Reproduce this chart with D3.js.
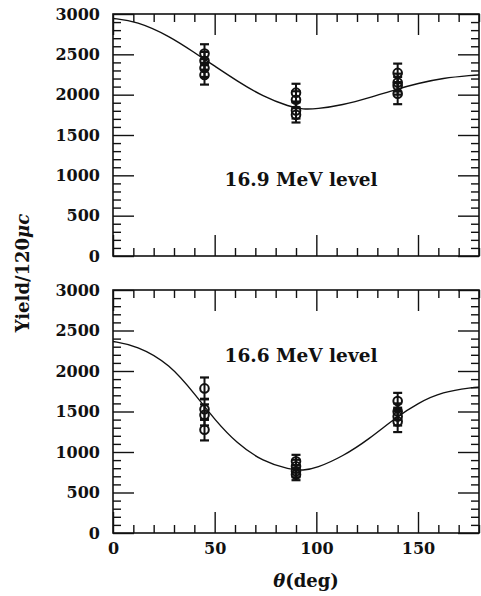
<!DOCTYPE html>
<html>
<head>
<meta charset="utf-8">
<script src="https://cdn.jsdelivr.net/npm/d3@7"></script>
<style>
  body { margin: 0; background: #fff; }
  svg text { font-family: "DejaVu Serif", serif; font-weight: bold; fill: #111; }
</style>
</head>
<body>
<div id="chart"></div>
<script>
// angles (deg) and yields
const thetaTicks = [0, 50, 100, 150];
const yieldTicks = [0, 500, 1000, 1500, 2000, 2500, 3000];

// 16.9 MeV level: measured points
const topTheta = [45, 45, 45, 45, 90, 90, 90, 90, 140, 140, 140, 140];
const topYield = [2510, 2420, 2330, 2245, 2025, 1937, 1804, 1750, 2270, 2150, 2110, 2012];
const topErr   = [115, 110, 110, 120, 110, 105, 100, 95, 115, 110, 110, 130];
// 16.9 MeV level: fitted curve
const topCurveTheta = [0, 11.5, 27.9, 41, 50, 60.7, 73.8, 86.9, 93.4, 100, 113, 126, 139, 150, 162, 177, 180];
const topCurveYield = [2945, 2912, 2725, 2505, 2355, 2175, 1975, 1850, 1818, 1822, 1872, 1960, 2065, 2140, 2205, 2242, 2245];

// 16.6 MeV level: measured points
const botTheta = [45, 45, 45, 45, 90, 90, 90, 90, 140, 140, 140, 140];
const botYield = [1785, 1527, 1458, 1274, 885, 824, 763, 722, 1630, 1500, 1437, 1376];
const botErr   = [135, 130, 130, 131, 80, 80, 75, 70, 100, 100, 110, 130];
// 16.6 MeV level: fitted curve
const botCurveTheta = [0, 11.5, 27.9, 41, 50, 60.7, 73.8, 86.9, 93.4, 100, 113, 126, 139, 150, 162, 177, 180];
const botCurveYield = [2365, 2316, 2091, 1690, 1400, 1110, 880, 783, 771, 800, 945, 1160, 1425, 1605, 1744, 1797, 1800];

const width = 481, height = 596;
const left = 113, right = 479;
const ink = '#111';

const svg = d3.select('#chart').append('svg')
    .attr('width', width)
    .attr('height', height);

const x = d3.scaleLinear().domain([0, 180]).range([left, right]);

function drawPanel(top, bottom, pts, curve, label, labelY, showXLabels) {
    const y = d3.scaleLinear().domain([0, 3000]).range([bottom, top]);
    const g = svg.append('g');

    const minorX = d3.range(0, 181, 10).filter(v => v % 50 !== 0);
    const minorY = d3.range(0, 3001, 100).filter(v => v % 500 !== 0);

    const style = sel => sel.call(s => s.select('.domain').remove())
        .call(s => s.selectAll('line').attr('stroke', ink).attr('stroke-width', 1.4));
    const fontIt = s => s.selectAll('text').attr('font-size', 16).attr('font-family', '"DejaVu Serif", serif')
        .attr('font-weight', 'bold').attr('fill', ink);

    // major + minor ticks on all four sides, pointing inward
    g.append('g').attr('transform', `translate(${left},0)`)
        .call(d3.axisLeft(y).tickValues(yieldTicks).tickSize(-21).tickPadding(13).tickFormat(d3.format('d')))
        .call(style).call(fontIt);
    g.append('g').attr('transform', `translate(${left},0)`)
        .call(d3.axisLeft(y).tickValues(minorY).tickSize(-8).tickFormat('')).call(style);
    g.append('g').attr('transform', `translate(${right},0)`)
        .call(d3.axisRight(y).tickValues(yieldTicks).tickSize(-21).tickFormat('')).call(style);
    g.append('g').attr('transform', `translate(${right},0)`)
        .call(d3.axisRight(y).tickValues(minorY).tickSize(-8).tickFormat('')).call(style);
    g.append('g').attr('transform', `translate(0,${top})`)
        .call(d3.axisTop(x).tickValues(thetaTicks).tickSize(-21).tickFormat('')).call(style);
    g.append('g').attr('transform', `translate(0,${top})`)
        .call(d3.axisTop(x).tickValues(minorX).tickSize(-8).tickFormat('')).call(style);
    g.append('g').attr('transform', `translate(0,${bottom})`)
        .call(d3.axisBottom(x).tickValues(thetaTicks).tickSize(-21).tickPadding(10).tickFormat(showXLabels ? d3.format('d') : ''))
        .call(style).call(fontIt);
    g.append('g').attr('transform', `translate(0,${bottom})`)
        .call(d3.axisBottom(x).tickValues(minorX).tickSize(-8).tickFormat('')).call(style);

    // frame
    g.append('rect')
        .attr('x', left).attr('y', top)
        .attr('width', right - left).attr('height', bottom - top)
        .attr('fill', 'none').attr('stroke', ink).attr('stroke-width', 1.6);

    // fitted curve
    const line = d3.line().x(d => x(d[0])).y(d => y(d[1])).curve(d3.curveBasis);
    g.append('path')
        .datum(curve)
        .attr('d', line)
        .attr('fill', 'none').attr('stroke', ink).attr('stroke-width', 1.4);

    // error bars
    const eb = g.selectAll('.eb').data(pts).enter().append('g');
    eb.append('line')
        .attr('x1', d => x(d.t)).attr('x2', d => x(d.t))
        .attr('y1', d => y(d.v - d.e)).attr('y2', d => y(d.v + d.e))
        .attr('stroke', ink).attr('stroke-width', 2);
    eb.selectAll('.cap').data(d => [[d.t, d.v - d.e], [d.t, d.v + d.e]]).enter().append('line')
        .attr('x1', d => x(d[0]) - 4.5).attr('x2', d => x(d[0]) + 4.5)
        .attr('y1', d => y(d[1])).attr('y2', d => y(d[1]))
        .attr('stroke', ink).attr('stroke-width', 2.2);

    // markers
    g.selectAll('.pt').data(pts).enter().append('circle')
        .attr('cx', d => x(d.t)).attr('cy', d => y(d.v)).attr('r', 4.3)
        .attr('fill', 'none').attr('stroke', ink).attr('stroke-width', 2);

    g.append('text')
        .attr('x', 301).attr('y', labelY)
        .attr('text-anchor', 'middle').attr('dominant-baseline', 'central')
        .attr('font-size', 18.5)
        .text(label);

    return y;
}

const zip = (t, v, e) => t.map((d, i) => ({t: d, v: v[i], e: e[i]}));

drawPanel(14, 256, zip(topTheta, topYield, topErr),
    topCurveTheta.map((d, i) => [d, topCurveYield[i]]), '16.9 MeV level', 179, false);
drawPanel(290, 533, zip(botTheta, botYield, botErr),
    botCurveTheta.map((d, i) => [d, botCurveYield[i]]), '16.6 MeV level', 355, true);

// axis titles
const yl = svg.append('text')
    .attr('transform', 'translate(22,273) rotate(-90)')
    .attr('text-anchor', 'middle').attr('dominant-baseline', 'central')
    .attr('font-size', 18);
yl.append('tspan').text('Yield/120');
yl.append('tspan').attr('font-style', 'italic').text('μc');

const xl = svg.append('text')
    .attr('x', 306).attr('y', 580)
    .attr('text-anchor', 'middle').attr('dominant-baseline', 'central')
    .attr('font-size', 18);
xl.append('tspan').attr('font-style', 'italic').text('θ');
xl.append('tspan').text('(deg)');
</script>
</body>
</html>
